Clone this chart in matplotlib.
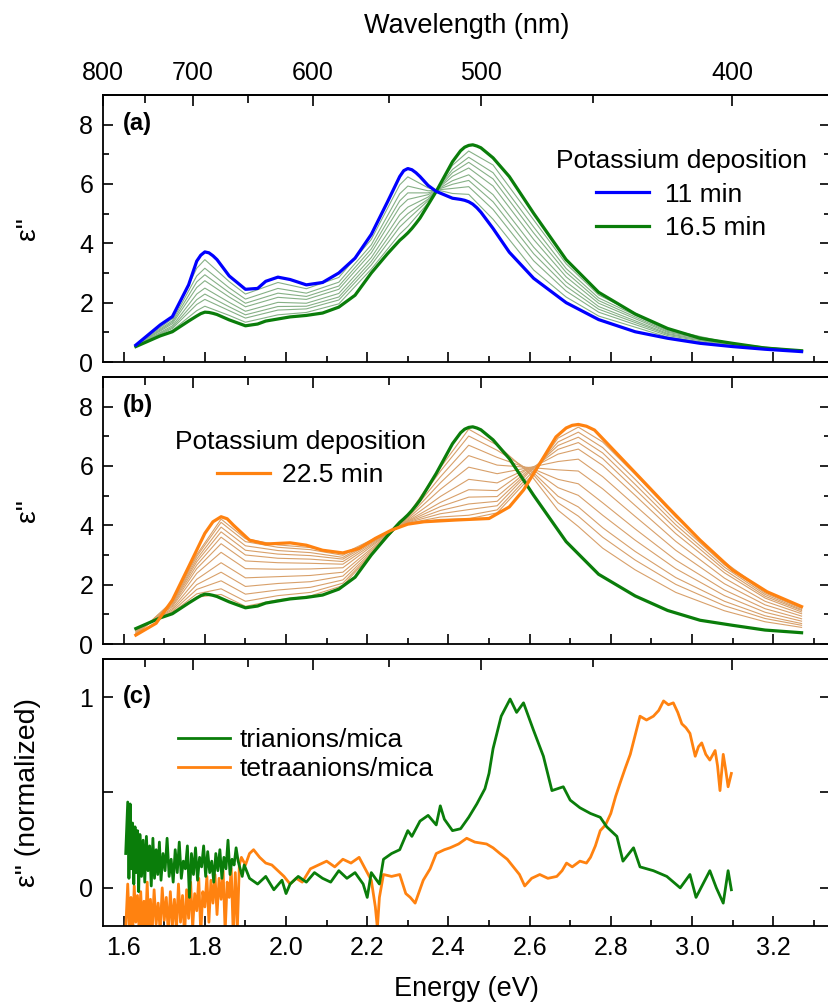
import matplotlib
matplotlib.use('Agg')
import matplotlib.pyplot as plt
from matplotlib.ticker import MultipleLocator, FixedLocator

plt.rcParams['font.family'] = ['Liberation Sans', 'DejaVu Sans']

# ---- panel (a): 11 min -> 16.5 min ----
energy_a = [1.63, 1.69, 1.72, 1.76, 1.78, 1.79, 1.80, 1.81, 1.82, 1.83, 1.86, 1.90, 1.93,
            1.95, 1.98, 2.01, 2.05, 2.09, 2.13, 2.17, 2.21, 2.25, 2.28, 2.29, 2.30, 2.31,
            2.32, 2.33, 2.35, 2.37, 2.41, 2.43, 2.44, 2.45, 2.46, 2.47, 2.48, 2.51, 2.55,
            2.61, 2.69, 2.77, 2.86, 2.94, 3.02, 3.10, 3.18, 3.27]
eps_11min = [0.57, 1.25, 1.53, 2.60, 3.40, 3.60, 3.71, 3.68, 3.58, 3.45, 2.90, 2.45, 2.48,
             2.72, 2.86, 2.78, 2.60, 2.68, 3.00, 3.50, 4.30, 5.40, 6.25, 6.45, 6.52, 6.48,
             6.38, 6.25, 5.95, 5.75, 5.52, 5.48, 5.45, 5.40, 5.32, 5.20, 5.05, 4.50, 3.70,
             2.82, 2.00, 1.43, 1.02, 0.80, 0.63, 0.52, 0.43, 0.35]
eps_16min = [0.52, 0.88, 1.02, 1.38, 1.55, 1.63, 1.68, 1.67, 1.64, 1.60, 1.42, 1.22, 1.28,
             1.38, 1.45, 1.52, 1.57, 1.65, 1.85, 2.25, 3.00, 3.65, 4.10, 4.22, 4.35, 4.50,
             4.67, 4.85, 5.30, 5.75, 6.75, 7.12, 7.24, 7.30, 7.32, 7.28, 7.22, 6.88, 6.25,
             5.01, 3.45, 2.35, 1.62, 1.13, 0.80, 0.63, 0.47, 0.38]

energy_a_thin = [1.63, 1.72, 1.78, 1.80, 1.86, 1.90, 1.98, 2.05, 2.13, 2.21, 2.28, 2.30,
                 2.35, 2.41, 2.45, 2.51, 2.61, 2.69, 2.77, 2.94, 3.10, 3.27]
eps_a_steps = [
    [0.56, 1.46, 3.16, 3.45, 2.71, 2.29, 2.68, 2.47, 2.85, 4.13, 5.97, 6.24, 5.87, 5.68, 5.65, 4.81, 3.10, 2.19, 1.55, 0.84, 0.53, 0.35],
    [0.56, 1.39, 2.90, 3.16, 2.50, 2.12, 2.48, 2.32, 2.69, 3.95, 5.67, 5.93, 5.77, 5.85, 5.91, 5.14, 3.41, 2.39, 1.68, 0.89, 0.55, 0.36],
    [0.55, 1.34, 2.70, 2.94, 2.34, 1.98, 2.32, 2.21, 2.56, 3.81, 5.43, 5.70, 5.70, 5.99, 6.12, 5.40, 3.65, 2.55, 1.78, 0.93, 0.56, 0.36],
    [0.55, 1.29, 2.51, 2.74, 2.19, 1.86, 2.18, 2.11, 2.45, 3.68, 5.22, 5.48, 5.64, 6.11, 6.31, 5.64, 3.87, 2.70, 1.87, 0.96, 0.57, 0.36],
    [0.54, 1.22, 2.29, 2.49, 2.01, 1.71, 2.01, 1.98, 2.31, 3.52, 4.96, 5.22, 5.56, 6.26, 6.54, 5.93, 4.13, 2.87, 1.98, 1.00, 0.59, 0.37],
    [0.54, 1.17, 2.10, 2.29, 1.86, 1.59, 1.87, 1.88, 2.19, 3.39, 4.74, 5.00, 5.49, 6.38, 6.73, 6.17, 4.35, 3.02, 2.07, 1.03, 0.60, 0.37],
    [0.53, 1.13, 1.94, 2.11, 1.73, 1.48, 1.75, 1.79, 2.09, 3.27, 4.55, 4.81, 5.44, 6.49, 6.90, 6.38, 4.55, 3.15, 2.16, 1.06, 0.61, 0.37],
    [0.53, 1.07, 1.73, 1.88, 1.57, 1.34, 1.59, 1.67, 1.96, 3.13, 4.31, 4.57, 5.36, 6.63, 7.11, 6.64, 4.79, 3.31, 2.26, 1.10, 0.62, 0.38],
]

# ---- panel (b): 16.5 min -> 22.5 min ----
energy_22 = [1.63, 1.68, 1.72, 1.76, 1.80, 1.82, 1.84, 1.855, 1.87, 1.91, 1.95, 2.01, 2.05,
             2.09, 2.14, 2.18, 2.22, 2.26, 2.30, 2.34, 2.42, 2.50, 2.55, 2.585, 2.625,
             2.665, 2.69, 2.705, 2.72, 2.74, 2.76, 2.815, 2.87, 2.94, 3.02, 3.10, 3.185, 3.27]
eps_22min = [0.30, 0.70, 1.48, 2.60, 3.73, 4.12, 4.29, 4.22, 4.01, 3.50, 3.37, 3.41, 3.33,
             3.16, 3.07, 3.22, 3.56, 3.84, 4.04, 4.12, 4.18, 4.23, 4.62, 5.19, 6.08,
             6.98, 7.28, 7.37, 7.40, 7.34, 7.21, 6.42, 5.63, 4.62, 3.50, 2.49, 1.76, 1.26]

energy_b_thin = [1.63, 1.72, 1.78, 1.84, 1.90, 1.98, 2.06, 2.14, 2.22, 2.30, 2.38, 2.45,
                 2.52, 2.60, 2.67, 2.72, 2.78, 2.86, 2.96, 3.08, 3.18, 3.27]
eps_b_steps = [
    [0.52, 1.03, 1.58, 1.67, 1.27, 1.49, 1.62, 1.97, 3.16, 4.34, 5.94, 7.24, 6.70, 5.75, 4.51, 3.96, 3.23, 2.50, 1.74, 1.12, 0.75, 0.56],
    [0.50, 1.06, 1.69, 1.86, 1.44, 1.63, 1.74, 2.05, 3.19, 4.32, 5.82, 7.01, 6.53, 5.85, 4.76, 4.31, 3.60, 2.83, 2.01, 1.29, 0.86, 0.63],
    [0.47, 1.10, 1.84, 2.13, 1.68, 1.82, 1.91, 2.16, 3.23, 4.29, 5.63, 6.70, 6.29, 5.90, 4.98, 4.62, 3.92, 3.12, 2.24, 1.44, 0.95, 0.69],
    [0.45, 1.15, 2.00, 2.42, 1.94, 2.04, 2.10, 2.29, 3.28, 4.26, 5.43, 6.35, 6.03, 5.95, 5.27, 5.01, 4.34, 3.50, 2.54, 1.63, 1.07, 0.77],
    [0.42, 1.20, 2.18, 2.74, 2.23, 2.27, 2.31, 2.42, 3.33, 4.22, 5.21, 5.96, 5.74, 5.95, 5.55, 5.40, 4.76, 3.88, 2.83, 1.82, 1.19, 0.85],
    [0.39, 1.26, 2.38, 3.09, 2.54, 2.52, 2.53, 2.57, 3.39, 4.18, 4.97, 5.55, 5.43, 5.95, 5.87, 5.83, 5.23, 4.30, 3.16, 2.03, 1.32, 0.94],
    [0.36, 1.30, 2.54, 3.38, 2.80, 2.74, 2.72, 2.69, 3.43, 4.15, 4.77, 5.20, 5.17, 5.95, 6.15, 6.23, 5.64, 4.67, 3.46, 2.22, 1.44, 1.02],
    [0.34, 1.34, 2.66, 3.60, 3.00, 2.89, 2.86, 2.78, 3.47, 4.13, 4.63, 4.95, 4.97, 5.90, 6.40, 6.57, 6.02, 5.01, 3.72, 2.40, 1.55, 1.08],
    [0.33, 1.37, 2.77, 3.78, 3.16, 3.03, 2.98, 2.86, 3.50, 4.11, 4.50, 4.72, 4.81, 5.85, 6.56, 6.79, 6.25, 5.21, 3.89, 2.50, 1.61, 1.13],
    [0.31, 1.39, 2.86, 3.94, 3.31, 3.15, 3.08, 2.92, 3.52, 4.09, 4.39, 4.53, 4.66, 5.80, 6.69, 6.97, 6.44, 5.38, 4.02, 2.59, 1.67, 1.16],
    [0.30, 1.42, 2.95, 4.10, 3.45, 3.26, 3.18, 2.99, 3.55, 4.07, 4.28, 4.34, 4.52, 5.70, 6.81, 7.14, 6.62, 5.55, 4.15, 2.67, 1.72, 1.20],
    [0.29, 1.44, 3.01, 4.21, 3.55, 3.34, 3.25, 3.04, 3.57, 4.06, 4.20, 4.22, 4.42, 5.60, 6.94, 7.31, 6.81, 5.72, 4.28, 2.76, 1.77, 1.23],
]

# ---- panel (c): normalized difference spectra ----
tri_energy = [1.605, 1.610, 1.613, 1.616, 1.619, 1.622, 1.625, 1.628, 1.631, 1.634, 1.637,
              1.640, 1.644, 1.648, 1.652, 1.656, 1.660, 1.664, 1.668, 1.672, 1.676, 1.680,
              1.684, 1.688, 1.692, 1.697, 1.702, 1.707, 1.712, 1.717, 1.722, 1.727, 1.732,
              1.737, 1.742, 1.747, 1.752, 1.757, 1.762, 1.767, 1.772, 1.777, 1.782, 1.787,
              1.792, 1.797, 1.802, 1.807, 1.812, 1.817, 1.822, 1.827, 1.832, 1.837, 1.842,
              1.847, 1.852, 1.857, 1.862, 1.867, 1.872, 1.877, 1.882, 1.887, 1.892, 1.897,
              1.91, 1.93, 1.95, 1.97, 1.99, 2.00, 2.01, 2.03, 2.05, 2.07, 2.09, 2.11, 2.13,
              2.15, 2.17, 2.19, 2.20, 2.21, 2.23, 2.24, 2.26, 2.28, 2.30, 2.31, 2.33, 2.35,
              2.37, 2.38, 2.39, 2.41, 2.43, 2.45, 2.47, 2.49, 2.50, 2.51, 2.53, 2.552, 2.568,
              2.585, 2.609, 2.634, 2.655, 2.683, 2.70, 2.724, 2.75, 2.774, 2.79, 2.815, 2.83,
              2.856, 2.872, 2.905, 2.938, 2.971, 2.995, 3.01, 3.044, 3.06, 3.077, 3.089, 3.097]
tri_norm = [0.18, 0.45, 0.05, 0.44, 0.10, 0.34, 0.02, 0.32, 0.08, 0.30, -0.02,
            0.28, 0.06, 0.25, 0.03, 0.27, 0.09, 0.22, 0.01, 0.26, 0.05, 0.20,
            0.07, 0.24, 0.04, 0.18, 0.09, 0.26, 0.06, 0.15, 0.03, 0.20, 0.08,
            0.24, 0.05, 0.14, 0.10, 0.22, -0.05, 0.18, 0.07, 0.21, 0.04, 0.16,
            0.11, 0.22, 0.06, 0.19, 0.08, 0.14, 0.03, 0.18, 0.09, 0.20, 0.05,
            0.16, 0.10, 0.25, 0.07, 0.15, 0.12, 0.21, 0.14, 0.10, 0.06, 0.12,
            0.05, 0.02, 0.06, -0.01, 0.04, -0.03, 0.02, 0.06, 0.03, 0.08, 0.05, 0.03, 0.09,
            0.05, 0.08, 0.02, -0.05, 0.08, 0.02, 0.15, 0.18, 0.20, 0.30, 0.27, 0.35, 0.38,
            0.33, 0.43, 0.36, 0.30, 0.31, 0.37, 0.44, 0.52, 0.60, 0.73, 0.90, 0.99, 0.92,
            0.97, 0.83, 0.69, 0.51, 0.53, 0.46, 0.42, 0.39, 0.37, 0.32, 0.27, 0.14,
            0.21, 0.11, 0.09, 0.06, 0.00, 0.07, -0.05, 0.09, 0.00, -0.08, 0.09, -0.01]

tetra_energy = [1.605, 1.610, 1.614, 1.618, 1.622, 1.626, 1.630, 1.634, 1.638, 1.642, 1.646,
                1.650, 1.654, 1.658, 1.662, 1.666, 1.670, 1.675, 1.680, 1.685, 1.690, 1.695,
                1.700, 1.705, 1.710, 1.715, 1.720, 1.725, 1.730, 1.735, 1.740, 1.745, 1.750,
                1.755, 1.760, 1.765, 1.770, 1.775, 1.780, 1.785, 1.790, 1.795, 1.800, 1.805,
                1.810, 1.815, 1.820, 1.825, 1.830, 1.835, 1.840, 1.845, 1.850, 1.855, 1.860,
                1.865, 1.870, 1.875, 1.880, 1.885, 1.890, 1.90, 1.91, 1.92, 1.935, 1.95,
                1.965, 1.98, 1.995, 2.01, 2.025, 2.04, 2.06, 2.08, 2.10, 2.12, 2.14, 2.16,
                2.18, 2.19, 2.20, 2.21, 2.22, 2.225, 2.23, 2.24, 2.26, 2.28, 2.295, 2.306,
                2.318, 2.338, 2.355, 2.37, 2.39, 2.404, 2.425, 2.445, 2.465, 2.494, 2.51,
                2.527, 2.545, 2.56, 2.575, 2.588, 2.605, 2.625, 2.645, 2.667, 2.68, 2.691,
                2.705, 2.724, 2.74, 2.75, 2.762, 2.774, 2.787, 2.80, 2.812, 2.823, 2.836,
                2.848, 2.86, 2.872, 2.888, 2.905, 2.918, 2.93, 2.942, 2.954, 2.965, 2.975,
                2.985, 2.995, 3.008, 3.016, 3.024, 3.034, 3.044, 3.057, 3.063, 3.069, 3.077,
                3.083, 3.089, 3.097]
tetra_norm = [-0.22, 0.02, -0.20, -0.05, -0.25, 0.01, -0.18, -0.04, -0.22, -0.02, -0.25,
              -0.07, -0.20, 0.03, -0.22, -0.06, -0.24, -0.01, -0.19, -0.08, -0.23, 0.00,
              -0.17, -0.05, -0.24, -0.02, -0.20, -0.06, -0.22, 0.02, -0.18, -0.04, -0.25,
              -0.01, -0.16, 0.03, -0.21, -0.03, -0.12, 0.05, -0.24, -0.02, -0.10, 0.06,
              -0.18, 0.04, -0.08, 0.07, -0.14, 0.05, -0.06, 0.09, -0.23, 0.03, -0.05,
              0.10, -0.25, 0.08, -0.22, 0.12, 0.16, 0.12, 0.18, 0.20, 0.16, 0.13,
              0.12, 0.09, 0.06, 0.02, 0.05, 0.03, 0.10, 0.12, 0.14, 0.11, 0.15, 0.13,
              0.16, 0.12, 0.08, 0.04, -0.10, -0.21, -0.05, 0.07, 0.06, 0.07, -0.03, -0.05,
              -0.08, 0.04, 0.10, 0.18, 0.20, 0.21, 0.23, 0.26, 0.24, 0.23, 0.21,
              0.18, 0.15, 0.11, 0.07, 0.01, 0.05, 0.07, 0.05, 0.06, 0.09, 0.13,
              0.11, 0.14, 0.13, 0.16, 0.22, 0.30, 0.33, 0.39, 0.48, 0.55, 0.63,
              0.70, 0.80, 0.90, 0.88, 0.90, 0.93, 0.98, 0.96, 0.97, 0.92, 0.86,
              0.84, 0.81, 0.69, 0.74, 0.76, 0.70, 0.67, 0.72, 0.64, 0.51, 0.70,
              0.62, 0.53, 0.60]

BLUE = '#0000ff'
GREEN = '#0a7d0a'
ORANGE = '#ff8210'
THIN_GREEN = '#86b086'
THIN_TAN = '#d8a06a'
FS = 18      # tick labels
LFS = 19     # legends
AFS = 19.5   # axis titles


def ev2nm(e):
    return 1239.84 / e


def style(ax, ylim, major, minor):
    ax.set_xlim(1.549, 3.34)
    ax.set_ylim(*ylim)
    ax.xaxis.set_major_locator(MultipleLocator(0.2))
    ax.xaxis.set_minor_locator(MultipleLocator(0.1))
    ax.yaxis.set_major_locator(MultipleLocator(major))
    ax.yaxis.set_minor_locator(MultipleLocator(minor))
    ax.tick_params(which='both', direction='in', top=False, right=True,
                   labelsize=FS, width=1.2, pad=7)
    ax.tick_params(which='major', length=7)
    ax.tick_params(which='minor', length=4)
    for s in ax.spines.values():
        s.set_linewidth(1.3)
    sec = ax.secondary_xaxis('top', functions=(ev2nm, ev2nm))
    sec.xaxis.set_major_locator(FixedLocator([800, 700, 600, 500, 400]))
    sec.xaxis.set_minor_locator(FixedLocator([750, 650, 550, 450]))
    sec.tick_params(which='both', direction='in', labelsize=FS, width=1.2, pad=7)
    sec.tick_params(which='major', length=8)
    sec.tick_params(which='minor', length=6)
    sec.spines['top'].set_linewidth(1.3)
    return sec


fig = plt.figure(figsize=(8.29, 10.05), dpi=100)
ax_a = fig.add_axes([0.1242, 0.6398, 0.877, 0.2657])
ax_b = fig.add_axes([0.1242, 0.3592, 0.877, 0.2657])
ax_c = fig.add_axes([0.1242, 0.0786, 0.877, 0.2657])

# (a)
for vals in eps_a_steps:
    ax_a.plot(energy_a_thin, vals, color=THIN_GREEN, lw=0.8)
ax_a.plot(energy_a, eps_16min, color=GREEN, lw=2.3, label='16.5 min')
ax_a.plot(energy_a, eps_11min, color=BLUE, lw=2.3, label='11 min')
sec_a = style(ax_a, (0, 9), 2, 1)
sec_a.set_xlabel('Wavelength (nm)', fontsize=AFS, labelpad=20)
ax_a.tick_params(labelbottom=False)
h, l = ax_a.get_legend_handles_labels()
ax_a.legend(h[::-1], l[::-1], title='Potassium deposition', loc='upper left',
            bbox_to_anchor=(0.59, 0.885), frameon=False, fontsize=LFS,
            title_fontsize=LFS, handlelength=2.0, handletextpad=0.6,
            labelspacing=0.35)
ax_a.text(0.028, 0.895, '(a)', transform=ax_a.transAxes, fontsize=17,
          fontweight='bold', va='center')
ax_a.set_ylabel('ε"', fontsize=AFS + 1)
ax_a.yaxis.set_label_coords(-0.085, 0.5)

# (b)
for vals in eps_b_steps:
    ax_b.plot(energy_b_thin, vals, color=THIN_TAN, lw=0.8)
ax_b.plot(energy_a, eps_16min, color=GREEN, lw=2.3)
ax_b.plot(energy_22, eps_22min, color=ORANGE, lw=2.3, label='22.5 min')
sec_b = style(ax_b, (0, 9), 2, 1)
sec_b.tick_params(labeltop=False)
ax_b.tick_params(labelbottom=False)
ax_b.legend(title='Potassium deposition', loc='upper left',
            bbox_to_anchor=(0.066, 0.89), frameon=False, fontsize=LFS,
            title_fontsize=LFS, handlelength=2.0, handletextpad=0.45,
            labelspacing=0.35)
ax_b.text(0.028, 0.895, '(b)', transform=ax_b.transAxes, fontsize=17,
          fontweight='bold', va='center')
ax_b.set_ylabel('ε"', fontsize=AFS + 1)
ax_b.yaxis.set_label_coords(-0.085, 0.5)

# (c)
ax_c.plot(tetra_energy, tetra_norm, color=ORANGE, lw=2.0, label='tetraanions/mica')
ax_c.plot(tri_energy, tri_norm, color=GREEN, lw=2.0, label='trianions/mica')
sec_c = style(ax_c, (-0.2, 1.2), 0.5, 0.5)
sec_c.tick_params(labeltop=False)
ax_c.set_yticks([0, 0.5, 1])
ax_c.set_yticklabels(['0', '', '1'])
ax_c.tick_params(axis='y', which='minor', length=0)
h, l = ax_c.get_legend_handles_labels()
ax_c.legend(h[::-1], l[::-1], loc='upper left', bbox_to_anchor=(0.07, 0.83),
            frameon=False, fontsize=LFS, handlelength=2.0, handletextpad=0.35,
            labelspacing=0.2)
ax_c.text(0.028, 0.86, '(c)', transform=ax_c.transAxes, fontsize=17,
          fontweight='bold', va='center')
ax_c.set_ylabel('ε" (normalized)', fontsize=AFS + 1)
ax_c.yaxis.set_label_coords(-0.085, 0.5)
ax_c.set_xlabel('Energy (eV)', fontsize=AFS, labelpad=12)

fig.savefig('out.png', dpi=100)
